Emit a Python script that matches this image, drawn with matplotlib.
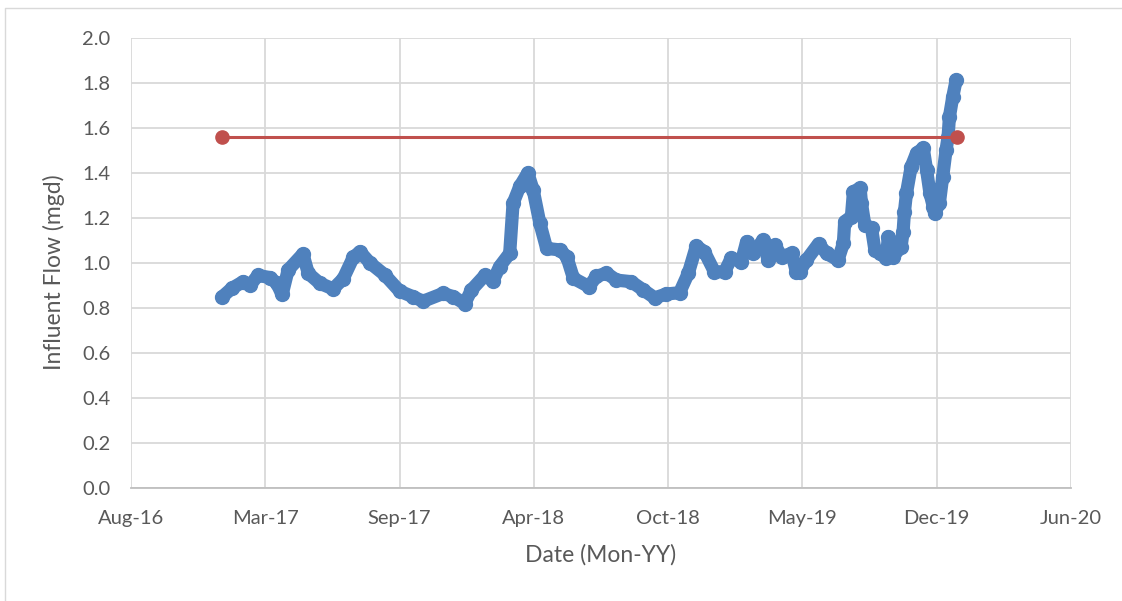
import matplotlib
matplotlib.use("Agg")
import matplotlib.pyplot as plt
import matplotlib.dates as mdates
from matplotlib.lines import Line2D
import pandas as pd

plt.rcParams['font.family'] = ['Lato', 'DejaVu Sans']

# influent flow readings (mgd)
flow_dates = [
    "2017-01-01", "2017-01-15", "2017-02-01", "2017-02-11", "2017-02-23",
    "2017-03-13", "2017-03-23", "2017-03-31", "2017-04-09", "2017-05-01",
    "2017-05-09", "2017-05-26", "2017-06-15", "2017-06-30", "2017-07-15",
    "2017-07-25", "2017-08-09", "2017-08-31", "2017-09-22", "2017-10-12",
    "2017-10-27", "2017-11-26", "2017-12-11", "2017-12-28", "2018-01-07",
    "2018-01-27", "2018-02-08", "2018-02-18", "2018-03-05", "2018-03-10",
    "2018-03-20", "2018-04-01", "2018-04-09", "2018-04-19", "2018-04-29",
    "2018-05-19", "2018-05-29", "2018-06-08", "2018-07-01", "2018-07-12",
    "2018-07-27", "2018-08-11", "2018-09-02", "2018-09-20", "2018-10-07",
    "2018-10-24", "2018-11-13", "2018-11-26", "2018-12-08", "2018-12-20",
    "2019-01-04", "2019-01-19", "2019-01-29", "2019-02-13", "2019-02-21",
    "2019-03-02", "2019-03-17", "2019-03-25", "2019-04-04", "2019-04-14",
    "2019-04-29", "2019-05-06", "2019-05-11", "2019-05-21", "2019-06-08",
    "2019-06-20", "2019-07-07", "2019-07-15", "2019-07-17", "2019-07-27",
    "2019-07-30", "2019-08-09", "2019-08-11", "2019-08-16", "2019-08-26",
    "2019-08-31", "2019-09-07", "2019-09-17", "2019-09-20", "2019-09-27",
    "2019-10-09", "2019-10-12", "2019-10-14", "2019-10-17", "2019-10-24",
    "2019-11-01", "2019-11-11", "2019-11-16", "2019-11-21", "2019-11-26",
    "2019-11-28", "2019-12-05", "2019-12-10", "2019-12-15", "2019-12-18",
    "2019-12-20", "2019-12-25", "2019-12-30",
]
flow_mgd = [
    0.85, 0.887, 0.917, 0.90, 0.945,
    0.935, 0.91, 0.86, 0.969, 1.04,
    0.954, 0.91, 0.885, 0.93, 1.025,
    1.05, 1.0, 0.947, 0.875, 0.85,
    0.83, 0.865, 0.85, 0.82, 0.88,
    0.945, 0.92, 0.984, 1.043, 1.265,
    1.34, 1.40, 1.324, 1.176, 1.065,
    1.058, 1.028, 0.932, 0.895, 0.94,
    0.955, 0.924, 0.917, 0.88, 0.845,
    0.862, 0.868, 0.954, 1.075, 1.05,
    0.961, 0.961, 1.021, 1.006, 1.095,
    1.043, 1.1, 1.013, 1.08, 1.028,
    1.043, 0.961, 0.961, 1.013, 1.085,
    1.043, 1.013, 1.087, 1.184, 1.206,
    1.317, 1.332, 1.265, 1.169, 1.154,
    1.058, 1.043, 1.021, 1.117, 1.028,
    1.072, 1.139, 1.228, 1.31, 1.428,
    1.488, 1.51, 1.413, 1.31, 1.25,
    1.221, 1.265, 1.384, 1.502, 1.561,
    1.65, 1.739, 1.813,
]

# design capacity line
cap_dates = ["2017-01-01", "2019-12-31"]
cap_mgd = [1.56, 1.56]

x_ticks = ["2016-08-18", "2017-03-06", "2017-09-22", "2018-04-10",
           "2018-10-27", "2019-05-15", "2019-12-01", "2020-06-18"]
y_ticks = [0.0, 0.2, 0.4, 0.6, 0.8, 1.0, 1.2, 1.4, 1.6, 1.8, 2.0]

blue = "#4F81BD"
red = "#C0504D"
grey_text = "#595959"

fig = plt.figure(figsize=(11.22, 6.01), dpi=100)
ax = fig.add_axes([0.1168, 0.188, 0.8377, 0.7488])

ax.plot(pd.to_datetime(flow_dates), flow_mgd, color=blue, lw=9.5,
        solid_capstyle='round', solid_joinstyle='round',
        marker='o', ms=10, mec=blue, mfc=blue, zorder=3)
ax.plot(pd.to_datetime(cap_dates), cap_mgd, color=red, lw=2.2,
        marker='o', ms=9.5, mec=red, mfc=red, zorder=4)

xt = pd.to_datetime(x_ticks)
ax.set_xlim(xt[0], xt[-1])
ax.set_xticks(xt)
ax.xaxis.set_major_formatter(mdates.DateFormatter('%b-%y'))
ax.set_ylim(0, 2.0)
ax.set_yticks(y_ticks)
ax.set_yticklabels([f"{v:.1f}" for v in y_ticks])

ax.grid(True, color="#d9d9d9", lw=1.3)
ax.set_axisbelow(True)
for s in ['top', 'right', 'left']:
    ax.spines[s].set_visible(False)
ax.spines['bottom'].set_color("#bfbfbf")
ax.spines['bottom'].set_linewidth(1.3)
ax.tick_params(length=0, labelsize=14.5, colors=grey_text)
ax.tick_params(axis='x', pad=16)
ax.tick_params(axis='y', pad=15)

ax.set_xlabel("Date (Mon-YY)", fontsize=16.5, color=grey_text)
ax.set_ylabel("Influent Flow (mgd)", fontsize=16.5, color=grey_text)
ax.xaxis.set_label_coords(0.5, -0.125)
ax.yaxis.set_label_coords(-0.07, 0.48)

# chart area border (left and top edges are inside the picture)
fig.lines.append(Line2D([5 / 1122, 5 / 1122, 1], [0, 1 - 8 / 601, 1 - 8 / 601],
                        transform=fig.transFigure, color="#d9d9d9", lw=1))

fig.savefig("out.png", dpi=100)
